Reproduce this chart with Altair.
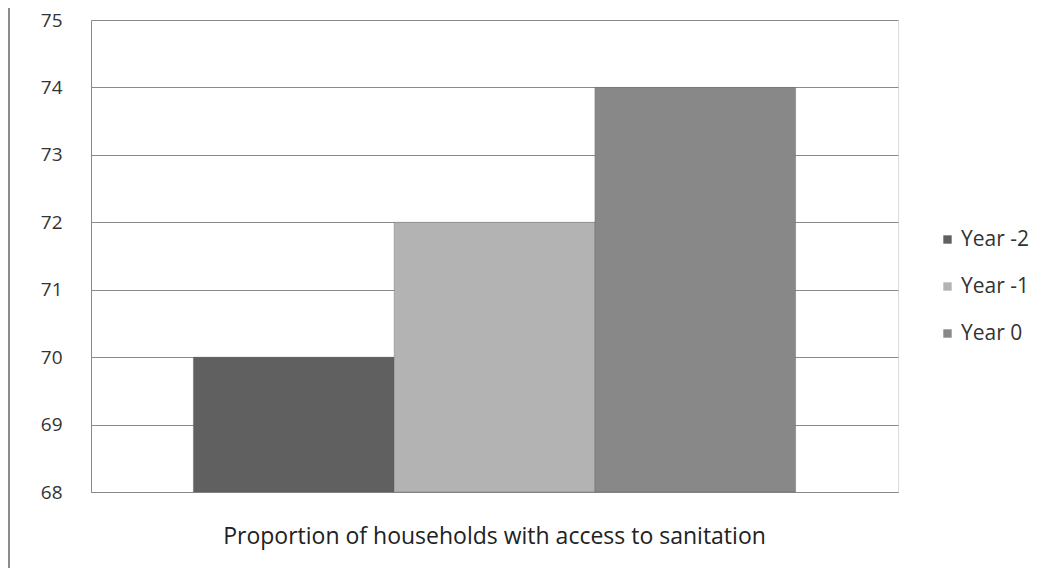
import altair as alt
import pandas as pd

category = ["Proportion of households with access to sanitation"] * 3
series = ["Year -2", "Year -1", "Year 0"]
values = [70, 72, 74]
colors = ["#606060", "#b3b3b3", "#888888"]

df = pd.DataFrame({"category": category, "series": series, "value": values})

FONT = "Open Sans"

bars = alt.Chart(df).mark_bar(stroke="#555555", strokeWidth=0.6, strokeOpacity=0.5).encode(
    x=alt.X("category:N", title=None,
            scale=alt.Scale(paddingInner=0, paddingOuter=0.17),
            axis=alt.Axis(ticks=False, domain=True, domainColor="#8a8a8a",
                          labelAngle=0, labelPadding=33, labelFontSize=23,
                          labelColor="#222222", labelFont=FONT, labelLimit=900)),
    xOffset=alt.XOffset("series:N", sort=series,
                        scale=alt.Scale(paddingInner=0, paddingOuter=0)),
    y=alt.Y("value:Q", title=None,
            scale=alt.Scale(domain=[68, 75], nice=False, zero=False),
            axis=alt.Axis(values=[68, 69, 70, 71, 72, 73, 74, 75], format="d",
                          ticks=False, labelPadding=29, labelFontSize=19,
                          labelColor="#333333", labelFont=FONT,
                          domainColor="#8a8a8a", gridColor="#8a8a8a",
                          gridWidth=1)),
    y2=alt.datum(68),
    color=alt.Color("series:N", sort=series,
                    scale=alt.Scale(domain=series, range=colors),
                    legend=alt.Legend(title=None, orient="none", legendX=846, legendY=209,
                                      symbolType="square", symbolSize=70,
                                      symbolStrokeWidth=0,
                                      labelFontSize=21, labelColor="#333333",
                                      labelFont=FONT, rowPadding=25, labelOffset=3)),
)

frame = alt.Chart(pd.DataFrame({"k": [0]})).mark_rule(color="#8c8c8c", strokeWidth=2).encode(
    x=alt.value(-82), y=alt.value(-12), y2=alt.value(556)
)
bottom = alt.Chart(pd.DataFrame({"k": [0]})).mark_rule(color="#d8d8d8", strokeWidth=1.5).encode(
    x=alt.value(-82), x2=alt.value(947), y=alt.value(553)
)

chart = alt.layer(bars, frame, bottom).properties(
    width=807,
    height=472,
    autosize=alt.AutoSizeParams(type="none"),
    padding={"left": 83, "top": 12, "right": 140, "bottom": 76},
).configure_view(stroke=None).configure(background="white")

chart.save("out.html", embed_options={"renderer": "svg", "actions": False})
